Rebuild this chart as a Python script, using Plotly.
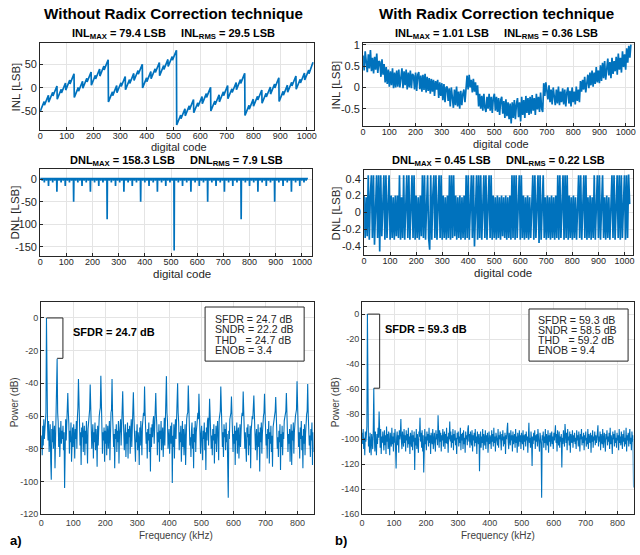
import plotly.graph_objects as go

W, H = 640, 555
FONT = "Liberation Sans, Arial, sans-serif"
BLUE = "#0072BD"
AX = "#262626"
GRID = "#e4e4e4"

# ---------------- (a) Without radix correction ----------------
inl_a_start = -50.0
inl_drop_codes = list(range(16, 1024, 16))
inl_a_before = [-28.8, -15.6, -9.4, 3.8, -3.0, 10.2, 16.4, 29.6, 0.8, 14.0, 20.2, 33.4, 26.6, 39.8, 46.0, 59.2,
                -8.6, 4.6, 10.8, 24.0, 17.2, 30.4, 36.6, 49.8, 21.0, 34.2, 40.4, 53.6, 46.8, 60.0, 66.2, 79.4,
                -57.4, -44.2, -38.0, -24.8, -31.6, -18.4, -12.2, 1.0, -27.8, -14.6, -8.4, 4.8, -2.0, 11.2, 17.4, 30.6,
                -37.2, -24.0, -17.8, -4.6, -11.4, 1.8, 8.0, 21.2, -7.6, 5.6, 11.8, 25.0, 18.2, 31.4, 37.6]
inl_a_after = [-36.8, -30.6, -17.4, -24.2, -11.0, -4.8, 8.4, -20.4, -7.2, -1.0, 12.2, 5.4, 18.6, 24.8, 38.0, -29.8,
               -16.6, -10.4, 2.8, -4.0, 9.2, 15.4, 28.6, -0.2, 13.0, 19.2, 32.4, 25.6, 38.8, 45.0, 58.2, -78.6,
               -65.4, -59.2, -46.0, -52.8, -39.6, -33.4, -20.2, -49.0, -35.8, -29.6, -16.4, -23.2, -10.0, -3.8, 9.4, -58.4,
               -45.2, -39.0, -25.8, -32.6, -19.4, -13.2, 0.0, -28.8, -15.6, -9.4, 3.8, -3.0, 10.2, 16.4, 29.6]
inl_a_end = 54.0

dnl_a_spike16 = [-7, -15, -7, -28, -7, -15, -7, -50, -7, -15, -7, -28, -7, -15, -7, -89,
                 -7, -15, -7, -28, -7, -15, -7, -50, -7, -15, -7, -28, -7, -15, -7, -158.3,
                 -7, -15, -7, -28, -7, -15, -7, -50, -7, -15, -7, -28, -7, -15, -7, -89,
                 -7, -15, -7, -28, -7, -15, -7, -50, -7, -15, -7, -28, -7, -15, -7]
dnl_a_spike8 = -3.0
dnl_a_base = 1.3

# ---------------- (b) With radix correction ----------------
inl_b_codes = list(range(0, 1024, 4))
inl_b = [0.75, 0.40, 0.85, 0.50, 0.36, 0.78, 0.45, 0.88, 0.38, 0.70, 0.33, 0.72, 0.42, 0.80, 0.34, 0.62,
         0.60, 0.25, 0.66, 0.30, 0.55, 0.12, 0.48, 0.08, 0.42, 0.02, 0.38, 0.05, 0.45, -0.02, 0.35, 0.00,
         0.40, 0.02, 0.42, 0.00, 0.35, 0.45, -0.02, 0.38, 0.05, 0.42, -0.05, 0.35, 0.00, 0.40, -0.02, 0.32,
         0.28, -0.05, 0.35, -0.08, 0.30, 0.36, -0.04, 0.28, -0.10, 0.30, -0.06, 0.32, -0.12, 0.25, -0.08, 0.22,
         -0.15, 0.20, -0.10, 0.18, -0.20, 0.15, -0.05, 0.18, -0.25, 0.12, -0.20, 0.10, -0.30, 0.08, -0.35, 0.00,
         0.02, -0.32, -0.02, -0.45, 0.00, -0.35, -0.48, -0.05, -0.42, 0.02, -0.45, -0.10, -0.50, -0.08, -0.42, -0.15,
         -0.05, -0.35, 0.08, 0.28, -0.05, 0.30, 0.00, 0.18, -0.12, 0.20, -0.10, 0.12, -0.18, 0.05, -0.45, -0.15,
         -0.50, -0.20, -0.55, -0.15, -0.48, -0.58, -0.22, -0.50, -0.15, -0.55, -0.22, -0.60, -0.25, -0.15, -0.55, -0.22,
         -0.58, -0.25, -0.65, -0.30, -0.22, -0.62, -0.32, -0.72, -0.28, -0.68, -0.35, -0.75, -0.38, -0.85, -0.35, -0.72,
         -0.30, -0.75, -0.40, -0.25, -0.70, -0.35, -0.80, -0.22, -0.65, -0.30, -0.72, -0.20, -0.60, -0.25, -0.65, -0.22,
         -0.62, -0.18, -0.55, -0.25, -0.65, -0.15, -0.52, -0.22, -0.58, -0.12, -0.50, -0.58, 0.10, -0.20, 0.12, -0.15,
         -0.28, 0.05, -0.35, -0.05, -0.40, 0.00, -0.32, -0.42, -0.05, -0.38, 0.02, -0.42, -0.10, -0.35, -0.02, -0.40,
         -0.05, -0.45, -0.12, 0.00, -0.38, -0.08, -0.45, 0.00, -0.35, -0.10, -0.40, 0.02, -0.32, -0.05, -0.35, 0.15,
         -0.10, 0.18, -0.05, 0.25, -0.12, 0.15, 0.30, -0.02, 0.35, 0.05, 0.40, 0.02, 0.35, 0.08, 0.48, 0.12,
         0.40, 0.10, 0.52, 0.15, 0.58, 0.22, 0.62, 0.18, 0.50, 0.68, 0.28, 0.60, 0.22, 0.70, 0.32, 0.62,
         0.38, 0.72, 0.30, 0.80, 0.42, 0.70, 0.35, 0.85, 0.48, 0.78, 0.42, 0.92, 0.58, 0.98, 0.70, 1.01]
dnl_b = [0.20, -0.30, 0.18, -0.28, 0.44, -0.32, 0.20, 0.44, -0.30, 0.44, -0.38, 0.15, 0.44, -0.30, 0.44, -0.46,
         0.44, -0.28, 0.20, 0.44, -0.32, 0.44, -0.30, 0.18, 0.44, -0.32, 0.20, -0.30, 0.18, -0.32, 0.20, -0.28,
         0.20, -0.30, 0.44, -0.32, 0.18, -0.30, 0.44, -0.32, 0.20, 0.44, -0.30, 0.44, -0.32, 0.20, 0.44, -0.30,
         0.44, -0.32, 0.20, -0.30, 0.18, -0.32, 0.20, -0.28, 0.44, -0.30, 0.44, -0.32, 0.20, 0.44, -0.30, -0.44,
         0.44, -0.32, 0.20, 0.44, -0.30, 0.44, -0.32, 0.18, 0.44, -0.30, 0.44, -0.32, 0.20, -0.30, 0.18, -0.32,
         0.20, -0.30, 0.44, -0.32, 0.44, -0.30, 0.44, -0.28, 0.20, -0.32, 0.18, -0.30, 0.20, -0.32, 0.18, -0.30,
         0.20, -0.32, 0.44, -0.30, 0.44, -0.32, 0.20, 0.44, -0.30, 0.44, -0.40, 0.18, 0.44, -0.32, 0.44, -0.30,
         0.44, -0.32, 0.20, 0.44, -0.30, 0.44, -0.32, 0.20, 0.44, -0.30, 0.44, -0.32, 0.20, -0.30, 0.18, -0.32,
         0.20, -0.30, 0.18, -0.32, 0.20, -0.28, 0.18, -0.30, 0.20, -0.32, 0.18, -0.30, 0.20, -0.32, 0.44, -0.30,
         0.44, -0.32, 0.44, -0.30, 0.20, 0.44, -0.32, 0.44, -0.30, 0.20, -0.32, 0.18, -0.30, 0.20, -0.32, 0.18,
         -0.30, 0.20, 0.44, -0.32, 0.44, -0.30, 0.20, 0.44, -0.36, 0.44, -0.32, 0.20, 0.44, -0.30, 0.18, -0.32,
         0.20, -0.30, 0.18, -0.32, 0.20, -0.30, 0.18, -0.32, 0.20, -0.30, 0.44, -0.32, 0.44, -0.30, 0.20, 0.44,
         -0.32, 0.44, -0.30, 0.44, -0.32, 0.20, -0.30, 0.18, -0.32, 0.20, -0.30, 0.18, -0.32, 0.20, 0.44, -0.30,
         0.44, -0.32, 0.20, 0.44, -0.30, 0.44, -0.32, 0.18, -0.30, 0.20, -0.32, 0.18, -0.30, 0.44, -0.32, 0.20,
         0.44, -0.30, 0.44, -0.32, 0.20, 0.44, -0.30, 0.18, -0.32, 0.20, -0.30, 0.18, -0.32, 0.20, 0.44, -0.30,
         0.44, -0.32, 0.20, 0.44, -0.30, 0.44, -0.32, 0.44, -0.30, 0.20, 0.44, -0.32, 0.44, -0.30, 0.45, 0.10]

# ---------------- Spectra (512 bins, 0..850 kHz) ----------------
F_MAX_KHZ = 850.0
psd_a = [
    -80, -72, -84, -66, -78, -62, -74, -68, -64, -58, 0, -57, -66, -75, -63, -82, -70, -65, -88, -99,
    -68, -76, -63, -80, -71, -66, -92, -70, -62, -56, -25, -58, -64, -79, -67, -85, -72, -63, -77, -69,
    -74, -66, -81, -70, -104, -68, -62, -75, -60, -57, -46, -58, -65, -83, -69, -76, -64, -88, -71, -67,
    -79, -65, -72, -86, -68, -74, -63, -80, -61, -55, -37.4, -57, -66, -78, -70, -90, -67, -73, -64, -82,
    -71, -66, -84, -69, -77, -63, -75, -89, -68, -62, -58, -56, -40.8, -59, -67, -80, -72, -65, -86, -70,
    -76, -64, -81, -68, -73, -91, -66, -78, -63, -60, -57, -55, -35.4, -58, -64, -83, -70, -75, -67, -88,
    -69, -77, -65, -84, -72, -66, -80, -70, -63, -87, -61, -58, -56, -37.4, -59, -66, -79, -71, -92, -68,
    -74, -65, -82, -69, -76, -63, -89, -71, -67, -62, -78, -58, -57, -44.8, -60, -68, -81, -72, -65, -85,
    -70, -77, -64, -86, -68, -73, -66, -83, -71, -62, -79, -59, -57, -45.4, -60, -67, -74, -88, -69, -76,
    -65, -81, -70, -74, -90, -67, -78, -63, -72, -84, -66, -61, -58, -60, -42, -58, -65, -77, -70, -86,
    -68, -75, -64, -82, -71, -94, -67, -79, -65, -73, -63, -60, -77, -58, -62, -46, -59, -66, -84, -70,
    -76, -65, -88, -69, -74, -63, -81, -71, -67, -85, -64, -61, -78, -57, -60, -35.6, -58, -63, -80, -72,
    -68, -83, -70, -66, -77, -64, -101, -72, -79, -65, -86, -69, -62, -74, -59, -57, -40, -58, -64, -81,
    -70, -76, -66, -88, -71, -63, -79, -68, -84, -72, -65, -90, -67, -62, -59, -58, -41.4, -60, -66, -78,
    -73, -85, -69, -64, -80, -71, -92, -67, -76, -63, -82, -70, -66, -60, -58, -62, -46.4, -59, -68, -83,
    -71, -66, -78, -87, -69, -74, -64, -81, -70, -93, -67, -75, -63, -61, -78, -59, -49.4, -60, -66, -80,
    -72, -84, -68, -75, -65, -89, -71, -77, -66, -82, -69, -63, -74, -87, -62, -60, -57, -42, -58, -67,
    -79, -70, -85, -65, -73, -68, -81, -64, -76, -71, -88, -110, -69, -74, -62, -60, -58, -48, -59, -66,
    -82, -71, -77, -66, -90, -69, -75, -64, -83, -70, -67, -86, -72, -65, -79, -63, -61, -58, -60, -45,
    -58, -64, -80, -70, -76, -88, -67, -73, -65, -84, -71, -78, -66, -92, -69, -63, -60, -62, -57, -47.4,
    -59, -66, -81, -72, -68, -87, -74, -65, -79, -70, -94, -67, -76, -64, -83, -71, -62, -60, -58, -46.4,
    -58, -65, -78, -71, -86, -68, -74, -63, -89, -70, -77, -66, -82, -72, -91, -67, -64, -61, -59, -57,
    -48.4, -60, -67, -80, -73, -85, -69, -76, -65, -93, -71, -79, -66, -84, -70, -74, -63, -61, -58, -57,
    -46, -59, -66, -82, -71, -77, -68, -88, -72, -65, -90, -69, -75, -64, -83, -70, -62, -60, -58, -56,
    -38.8, -58, -65, -79, -70, -86, -67, -74, -63, -81, -72, -92, -68, -77, -65, -84, -71, -61, -59, -57,
    -40.4, -59, -66, -78, -72, -85, -68, -75, -64, -90, -70, -82]
psd_b = [
    -95, -104, -92, -108, -99, -113, -94, -102, -97, -90, 0, -92, -106, -98, -111, -95, -103, -113, -96, -100,
    -108, -93, -59.3, -97, -110, -94, -101, -113, -96, -104, -91, -99, -78, -95, -107, -92, -112, -98, -103, -94,
    -100, -109, -93, -105, -97, -112, -90, -102, -96, -108, -94, -101, -113, -95, -99, -106, -91, -104, -98, -110,
    -95, -103, -92, -107, -123.6, -99, -94, -105, -97, -111, -93, -100, -96, -84, -102, -108, -94, -99, -106, -92,
    -103, -97, -110, -93, -101, -96, -107, -91, -104, -98, -112, -95, -100, -106, -93, -109, -97, -102, -94, -124.7,
    -99, -105, -92, -108, -96, -101, -111, -94, -98, -83, -102, -95, -107, -93, -110, -97, -126.8, -100, -92, -104,
    -98, -109, -94, -101, -96, -106, -91, -103, -97, -112, -95, -100, -104, -92, -108, -99, -95, -103, -110, -93,
    -100, -96, -105, -81, -98, -107, -93, -102, -95, -110, -97, -101, -92, -106, -99, -94, -108, -96, -103, -91,
    -104, -98, -111, -95, -100, -86, -102, -94, -107, -97, -103, -92, -109, -96, -101, -93, -105, -99, -112, -95,
    -100, -94, -106, -98, -103, -91, -109, -96, -101, -95, -108, -93, -104, -99, -111, -94, -100, -97, -105, -92,
    -89, -102, -96, -107, -94, -100, -105, -93, -110, -97, -101, -95, -106, -92, -103, -98, -112, -94, -99, -104,
    -96, -125.7, -101, -94, -107, -98, -103, -92, -109, -96, -100, -105, -93, -108, -97, -102, -95, -111, -99, -94,
    -104, -97, -100, -108, -93, -102, -96, -106, -91, -103, -98, -110, -95, -101, -99, -105, -92, -107, -97, -100,
    -94, -103, -109, -96, -101, -93, -106, -98, -104, -95, -112, -97, -100, -92, -87, -102, -108, -95, -99, -105,
    -93, -101, -97, -110, -94, -104, -99, -96, -107, -92, -103, -98, -111, -95, -100, -106, -93, -102, -97, -108,
    -95, -100, -104, -93, -109, -97, -102, -96, -106, -94, -101, -98, -111, -95, -87, -103, -99, -107, -94, -100,
    -121.5, -98, -104, -95, -101, -93, -108, -97, -102, -96, -106, -92, -103, -99, -110, -95, -100, -104, -147, -97,
    -101, -94, -107, -98, -103, -92, -109, -96, -100, -105, -93, -111, -97, -102, -95, -106, -99, -94, -104, -98,
    -108, -95, -101, -97, -89, -103, -96, -110, -93, -100, -105, -94, -107, -98, -102, -96, -122.8, -99, -104, -93,
    -100, -106, -88, -97, -103, -95, -109, -92, -101, -98, -105, -94, -111, -96, -100, -103, -93, -107, -97, -102,
    -95, -104, -99, -108, -93, -101, -97, -106, -94, -102, -110, -96, -100, -92, -105, -98, -103, -95, -109, -97,
    -101, -94, -106, -99, -104, -92, -108, -96, -100, -103, -95, -111, -97, -102, -93, -107, -98, -101, -94, -105,
    -97, -103, -100, -95, -89, -106, -98, -102, -94, -109, -96, -101, -104, -92, -107, -99, -95, -103, -110, -96,
    -100, -93, -105, -98, -102, -95, -108, -91, -104, -97, -101, -112, -94, -100, -96, -106, -93, -103, -99, -107,
    -95, -101, -97, -109, -92, -103, -98, -105, -94, -100, -108, -96, -102, -93, -106, -99, -104, -91, -110, -97,
    -101, -95, -106, -98, -92, -104, -99, -109, -94, -102, -97, -138.7]

metrics_a = ["SFDR = 24.7 dB", "SNDR = 22.2 dB", "THD&nbsp;&nbsp;&nbsp;= 24.7 dB", "ENOB = 3.4"]
metrics_b = ["SFDR = 59.3 dB", "SNDR = 58.5 dB", "THD&nbsp;&nbsp;&nbsp;= 59.2 dB", "ENOB = 9.4"]
sfdr_a, fund_a, harm_a = 24.7, 17.0, 50.0
sfdr_b, fund_b, harm_b = 59.3, 17.0, 36.6

# ---------------- build traces ----------------
x_inl_a, y_inl_a = [0], [inl_a_start]
for c, b, a in zip(inl_drop_codes, inl_a_before, inl_a_after):
    x_inl_a += [c - 1, c]
    y_inl_a += [b, a]
x_inl_a.append(1023)
y_inl_a.append(inl_a_end)

x_dnl_a, y_dnl_a = [0], [dnl_a_base]
for c in range(8, 1024, 8):
    v = dnl_a_spike16[c // 16 - 1] if c % 16 == 0 else dnl_a_spike8
    x_dnl_a += [c - 1, c, c + 1]
    y_dnl_a += [dnl_a_base, v, dnl_a_base]
x_dnl_a.append(1023)
y_dnl_a.append(dnl_a_base)

freq_a = [k * F_MAX_KHZ / (len(psd_a) - 1) for k in range(len(psd_a))]
freq_b = [k * F_MAX_KHZ / (len(psd_b) - 1) for k in range(len(psd_b))]

fig = go.Figure()
fig.add_trace(go.Scatter(x=x_inl_a, y=y_inl_a, mode="lines", line=dict(color=BLUE, width=1.7), xaxis="x", yaxis="y"))
fig.add_trace(go.Scatter(x=inl_b_codes, y=inl_b, mode="lines", line=dict(color=BLUE, width=1.7), xaxis="x2", yaxis="y2"))
fig.add_trace(go.Scatter(x=x_dnl_a, y=y_dnl_a, mode="lines", line=dict(color=BLUE, width=1.7), xaxis="x3", yaxis="y3"))
fig.add_trace(go.Scatter(x=inl_b_codes, y=dnl_b, mode="lines", line=dict(color=BLUE, width=1.7), xaxis="x4", yaxis="y4"))
fig.add_trace(go.Scatter(x=freq_a, y=psd_a, mode="lines", line=dict(color=BLUE, width=1.1), xaxis="x5", yaxis="y5"))
fig.add_trace(go.Scatter(x=freq_b, y=psd_b, mode="lines", line=dict(color=BLUE, width=1.1), xaxis="x6", yaxis="y6"))


def px(x):
    return x / W


def py(y):
    return 1 - y / H


def axis(x0, x1, rng, tickvals, ticktext, size, anchor, color=AX, standoff=0):
    return dict(domain=[px(x0), px(x1)], range=rng, tickvals=tickvals, ticktext=ticktext,
                tickfont=dict(size=size, color=color, family=FONT), anchor=anchor,
                showline=True, mirror=True, linecolor=AX, linewidth=1,
                ticks="inside", ticklen=3, tickcolor=AX, showgrid=True, gridcolor=GRID,
                gridwidth=1, zeroline=False, fixedrange=True, ticklabelstandoff=standoff)


def yaxis(y_top, y_bot, rng, tickvals, ticktext, size, anchor, color=AX):
    d = axis(0, 1, rng, tickvals, ticktext, size, anchor, color)
    d["domain"] = [py(y_bot), py(y_top)]
    return d


code_ticks = list(range(0, 1001, 100))
code_text = [str(v) for v in code_ticks]
f_ticks = list(range(0, 801, 100))
f_text = [str(v) for v in f_ticks]

layout = dict(
    width=W, height=H, margin=dict(l=0, r=0, t=0, b=0),
    paper_bgcolor="white", plot_bgcolor="white", showlegend=False,
    font=dict(family=FONT, color=AX),
    xaxis=axis(37.5, 314, [0, 1027], code_ticks, code_text, 9, "y", standoff=-3),
    yaxis=yaxis(39.5, 128.5, [-90, 95], [-50, 0, 50], ["-50", "0", "50"], 11, "x"),
    xaxis2=axis(363.5, 636.5, [0, 1030], code_ticks, code_text, 9, "y2", standoff=-3),
    yaxis2=yaxis(39.5, 124.5, [-0.92, 1.05], [-0.5, 0, 0.5, 1], ["-0.5", "0", "0.5", "1"], 11, "x2"),
    xaxis3=axis(37.5, 311.5, [0, 1037], code_ticks, code_text, 9, "y3", standoff=-3),
    yaxis3=yaxis(167.5, 256.5, [-171, 23], [-150, -100, -50, 0], ["-150", "-100", "-50", "0"], 11, "x3"),
    xaxis4=axis(364.5, 636, [0, 1033], code_ticks, code_text, 9, "y4", standoff=-3),
    yaxis4=yaxis(169, 255, [-0.5, 0.5], [-0.4, -0.2, 0, 0.2, 0.4], ["-0.4", "-0.2", "0", "0.2", "0.4"], 11, "x4"),
    xaxis5=axis(38.5, 313.5, [0, 850], f_ticks, f_text, 9, "y5", "#404040"),
    yaxis5=yaxis(302.5, 518.5, [-120, 10], list(range(-120, 1, 20)), [str(v) for v in range(-120, 1, 20)], 9, "x5", "#404040"),
    xaxis6=axis(362.5, 636.5, [0, 850], f_ticks, f_text, 9, "y6", "#404040"),
    yaxis6=yaxis(302.5, 518.5, [-160, 10], list(range(-160, 1, 20)), [str(v) for v in range(-160, 1, 20)], 9, "x6", "#404040"),
)

ann = []


def text(x, y, s, size, bold=False, angle=0, color=AX, xanchor="center"):
    ann.append(dict(x=px(x), y=py(y), xref="paper", yref="paper", text=f"<b>{s}</b>" if bold else s,
                    showarrow=False, xanchor=xanchor, yanchor="middle", textangle=angle,
                    font=dict(size=size, color=color, family=FONT)))


text(172, 10, "Without Radix Correction technique", 15.2, True, color="black")
text(498, 10, "With Radix Correction technique", 15.2, True, color="black")
text(172, 31, "INL<sub>MAX</sub> = 79.4 LSB&nbsp;&nbsp;&nbsp;&nbsp;&nbsp;INL<sub>RMS</sub> = 29.5 LSB", 11, True, color="black")
text(498, 31, "INL<sub>MAX</sub> = 1.01 LSB&nbsp;&nbsp;&nbsp;&nbsp;&nbsp;INL<sub>RMS</sub> = 0.36 LSB", 11, True, color="black")
text(175, 159.5, "DNL<sub>MAX</sub> = 158.3 LSB&nbsp;&nbsp;&nbsp;&nbsp;&nbsp;DNL<sub>RMS</sub> = 7.9 LSB", 11, True, color="black")
text(500, 159.5, "DNL<sub>MAX</sub> = 0.45 LSB&nbsp;&nbsp;&nbsp;&nbsp;&nbsp;DNL<sub>RMS</sub> = 0.22 LSB", 11, True, color="black")
text(13, 84, "INL [LSB]", 11.5, angle=-90)
text(336, 82, "INL [LSB]", 11.5, angle=-90)
text(12, 212, "DNL [LSB]", 11.5, angle=-90)
text(336, 213, "DNL [LSB]", 11.5, angle=-90)
text(178, 145, "digital code", 11)
text(503, 142.5, "digital code", 11)
text(181, 274, "digital code", 11.5)
text(505, 273, "digital code", 11.5)
text(12, 405, "Power (dB)", 10, angle=-90, color="#404040")
text(336, 405, "Power (dB)", 10, angle=-90, color="#404040")
text(175, 540, "Frequency (kHz)", 10, color="#404040")
text(500, 540, "Frequency (kHz)", 10, color="#404040")
text(13, 545, "a)", 13, True, color="black")
text(341, 545, "b)", 13, True, color="black")
text(69, 333, f"SFDR = {sfdr_a} dB", 11, True, color="black", xanchor="left")
text(384, 330, f"SFDR = {sfdr_b} dB", 11, True, color="black", xanchor="left")

shapes = []
for lines, bx0, by0, bx1, by1, ys in [(metrics_a, 204, 308, 304, 363, [320, 330.7, 341.4, 352]),
                                      (metrics_b, 531, 310, 631, 363, [321, 331.3, 341.6, 352])]:
    shapes.append(dict(type="rect", xref="paper", yref="paper", x0=px(bx0), y0=py(by1), x1=px(bx1), y1=py(by0),
                       line=dict(color=AX, width=1), fillcolor="white", layer="above"))
    for s, yy in zip(lines, ys):
        text(bx0 + 7.5, yy, s, 10.6, color=AX, xanchor="left")

for xa, ya, f0, fh, sf, xv in [("x5", "y5", fund_a, harm_a, sfdr_a, 68.0), ("x6", "y6", fund_b, harm_b, sfdr_b, 55.0)]:
    for (x0, y0, x1, y1) in [(f0, 0, xv, 0), (xv, 0, xv, -sf), (fh, -sf, xv, -sf)]:
        shapes.append(dict(type="line", xref=xa, yref=ya, x0=x0, y0=y0, x1=x1, y1=y1,
                           line=dict(color=AX, width=1)))

layout["annotations"] = ann
layout["shapes"] = shapes
fig.update_layout(**layout)
fig.write_html("out.html", config={"displayModeBar": False},
               post_script="document.body.style.margin='0';document.body.style.overflow='hidden';")
